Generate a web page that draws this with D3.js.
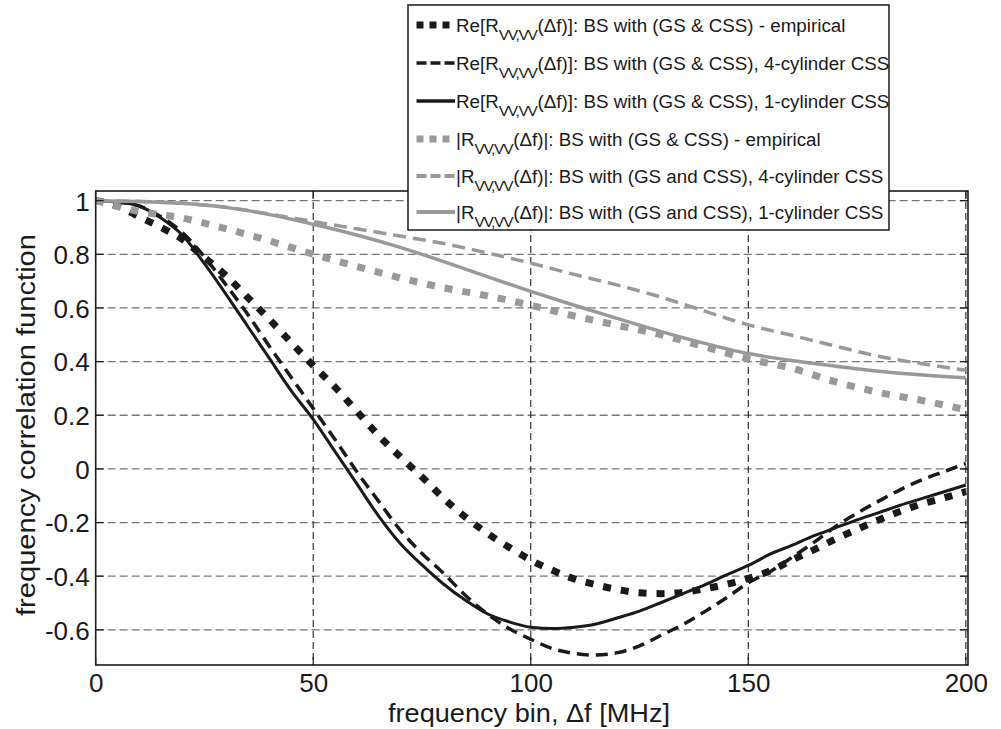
<!DOCTYPE html>
<html>
<head>
<meta charset="utf-8">
<script src="https://cdn.jsdelivr.net/npm/d3@7"></script>
<style>
body { margin: 0; background: #fff; }
text { font-family: "Liberation Sans", Arial, sans-serif; fill: #1a1a1a; }
</style>
</head>
<body>
<svg id="chart" width="1001" height="729"></svg>
<script>
// frequency bins [MHz]
const freqFine = [0,5,10,15,20,25,30,35,40,45,50,55,60,65,70,75,80,85,90,95,100,105,110,115,120,125,130,135,140,145,150,155,160,165,170,175,180,185,190,195,200];
const freqCoarse = [0,10,20,30,40,50,60,70,80,90,100,110,120,130,140,150,160,170,180,190,200];

// Re[R(df)] curves
const reEmpirical = [1.0,0.98,0.94,0.90,0.855,0.788,0.72,0.638,0.556,0.47,0.385,0.305,0.215,0.125,0.045,-0.03,-0.11,-0.18,-0.24,-0.292,-0.34,-0.378,-0.41,-0.432,-0.45,-0.462,-0.465,-0.46,-0.447,-0.43,-0.408,-0.38,-0.34,-0.302,-0.262,-0.225,-0.19,-0.158,-0.13,-0.108,-0.085];
const reFourCyl = [1.0,0.995,0.98,0.94,0.88,0.79,0.685,0.575,0.455,0.34,0.225,0.11,-0.01,-0.12,-0.228,-0.315,-0.39,-0.472,-0.54,-0.595,-0.635,-0.67,-0.688,-0.694,-0.685,-0.66,-0.62,-0.58,-0.532,-0.48,-0.425,-0.383,-0.33,-0.275,-0.215,-0.165,-0.12,-0.077,-0.04,-0.01,0.02];
const reOneCyl = [1.0,0.995,0.98,0.935,0.87,0.765,0.65,0.53,0.41,0.29,0.185,0.065,-0.055,-0.175,-0.278,-0.358,-0.43,-0.49,-0.54,-0.57,-0.59,-0.595,-0.59,-0.578,-0.555,-0.53,-0.498,-0.465,-0.432,-0.395,-0.36,-0.318,-0.285,-0.25,-0.22,-0.19,-0.163,-0.135,-0.11,-0.085,-0.06];

// |R(df)| curves
const absEmpirical = [1.0,0.96,0.935,0.895,0.85,0.80,0.755,0.712,0.675,0.645,0.61,0.57,0.535,0.50,0.455,0.41,0.375,0.325,0.285,0.255,0.22];
const absFourCyl = [1.0,0.997,0.99,0.975,0.95,0.922,0.895,0.868,0.84,0.805,0.767,0.725,0.685,0.64,0.588,0.537,0.498,0.458,0.42,0.392,0.368];
const absOneCyl = [1.0,0.997,0.99,0.975,0.948,0.912,0.872,0.826,0.773,0.717,0.662,0.61,0.56,0.512,0.468,0.43,0.404,0.383,0.364,0.35,0.34];

const xTicks = [0,50,100,150,200];
const yTicks = [-0.6,-0.4,-0.2,0,0.2,0.4,0.6,0.8,1];

const legendLabels = [
  ["Re[R", "VV,VV", "(\u0394f)]: BS with (GS & CSS) - empirical"],
  ["Re[R", "VV,VV", "(\u0394f)]: BS with (GS & CSS), 4-cylinder CSS"],
  ["Re[R", "VV,VV", "(\u0394f)]: BS with (GS & CSS), 1-cylinder CSS"],
  ["|R", "VV,VV", "(\u0394f)|: BS with (GS & CSS) - empirical"],
  ["|R", "VV,VV", "(\u0394f)|: BS with (GS and CSS), 4-cylinder CSS"],
  ["|R", "VV,VV", "(\u0394f)|: BS with (GS and CSS), 1-cylinder CSS"]
];

const black = "#1a1a1a", grey = "#999999";
const series = [
  {xs: freqFine, ys: reEmpirical, color: black, width: 7, dash: "8,10", legDash: "7,6"},
  {xs: freqFine, ys: reFourCyl, color: black, width: 3.5, dash: "12,7", legDash: "10,4"},
  {xs: freqFine, ys: reOneCyl, color: black, width: 3, dash: null, legDash: null},
  {xs: freqCoarse, ys: absEmpirical, color: grey, width: 7, dash: "8,10", legDash: "7,6"},
  {xs: freqCoarse, ys: absFourCyl, color: grey, width: 3.5, dash: "13,7", legDash: "10,4"},
  {xs: freqCoarse, ys: absOneCyl, color: grey, width: 3.5, dash: null, legDash: null}
];

const svg = d3.select("#chart");
const pLeft = 95.7, pRight = 968, pTop = 191, pBottom = 665;

const x = d3.scaleLinear().domain([0, 200.5]).range([pLeft, pRight]);
const y = d3.scaleLinear().domain([-0.731, 1.036]).range([pBottom, pTop]);

svg.append("rect").attr("width", 1001).attr("height", 729).attr("fill", "#fff");

// grid
svg.append("g").selectAll("line")
  .data(yTicks)
  .enter().append("line")
  .attr("x1", pLeft).attr("x2", pRight)
  .attr("y1", d => y(d)).attr("y2", d => y(d))
  .attr("stroke", "#777").attr("stroke-width", 1.3)
  .attr("stroke-dasharray", "8,4");
svg.append("g").selectAll("line")
  .data(xTicks.filter(d => d > 0))
  .enter().append("line")
  .attr("x1", d => x(d)).attr("x2", d => x(d))
  .attr("y1", pTop).attr("y2", pBottom)
  .attr("stroke", "#222").attr("stroke-width", 1.1)
  .attr("stroke-dasharray", "7,4");

// curves
svg.append("defs").append("clipPath").attr("id", "plotClip")
  .append("rect").attr("x", pLeft).attr("y", pTop)
  .attr("width", pRight - pLeft).attr("height", pBottom - pTop);

const line = d3.line()
  .x(d => x(d[0]))
  .y(d => y(d[1]))
  .curve(d3.curveMonotoneX);

const curves = svg.append("g").attr("clip-path", "url(#plotClip)");
series.forEach(s => {
  curves.append("path")
    .datum(s.xs.map((f, i) => [f, s.ys[i]]))
    .attr("d", line)
    .attr("fill", "none")
    .attr("stroke", s.color)
    .attr("stroke-width", s.width)
    .attr("stroke-dasharray", s.dash)
    .attr("stroke-linecap", "butt");
});

// ticks (inside)
const tk = svg.append("g").attr("stroke", black).attr("stroke-width", 1.2);
yTicks.forEach(v => {
  tk.append("line").attr("x1", pLeft).attr("x2", pLeft + 8).attr("y1", y(v)).attr("y2", y(v));
  tk.append("line").attr("x1", pRight - 8).attr("x2", pRight).attr("y1", y(v)).attr("y2", y(v));
});
xTicks.forEach(v => {
  tk.append("line").attr("x1", x(v)).attr("x2", x(v)).attr("y1", pBottom).attr("y2", pBottom - 8);
  tk.append("line").attr("x1", x(v)).attr("x2", x(v)).attr("y1", pTop).attr("y2", pTop + 8);
});

// box
svg.append("rect")
  .attr("x", pLeft).attr("y", pTop)
  .attr("width", pRight - pLeft).attr("height", pBottom - pTop)
  .attr("fill", "none").attr("stroke", black).attr("stroke-width", 1.6);

// axes labels
const yAxis = d3.axisLeft(y).tickValues(yTicks).tickSize(0).tickPadding(6)
  .tickFormat(d => String(+d.toFixed(1)));
const gy = svg.append("g").attr("transform", `translate(${pLeft},0)`).call(yAxis);
gy.select(".domain").remove();
gy.selectAll("text").attr("font-size", 26).attr("dy", "0.36em")
  .style("font-family", "'Liberation Sans', Arial, sans-serif").attr("fill", black);

const xAxis = d3.axisBottom(x).tickValues(xTicks).tickSize(0).tickPadding(9);
const gx = svg.append("g").attr("transform", `translate(0,${pBottom})`).call(xAxis);
gx.select(".domain").remove();
gx.selectAll("text").attr("font-size", 26)
  .style("font-family", "'Liberation Sans', Arial, sans-serif").attr("fill", black);

svg.append("text")
  .attr("x", 529).attr("y", 722)
  .attr("text-anchor", "middle").attr("font-size", 26)
  .attr("textLength", 282).attr("lengthAdjust", "spacingAndGlyphs")
  .text("frequency bin, \u0394f [MHz]");

svg.append("text")
  .attr("transform", "translate(35,425) rotate(-90)")
  .attr("text-anchor", "middle").attr("font-size", 26)
  .attr("textLength", 382).attr("lengthAdjust", "spacingAndGlyphs")
  .text("frequency correlation function");

// legend
const leg = svg.append("g");
leg.append("rect")
  .attr("x", 408).attr("y", 5).attr("width", 481).attr("height", 225)
  .attr("fill", "#fff").attr("stroke", black).attr("stroke-width", 1.5);

const rowY = [25, 63, 101, 139, 176, 212];
series.forEach((s, i) => {
  const cy = rowY[i];
  leg.append("line")
    .attr("x1", 416.5).attr("x2", 455).attr("y1", cy).attr("y2", cy)
    .attr("stroke", s.color)
    .attr("stroke-width", s.width === 7 ? 7 : (s.color === grey ? 4 : 3.5))
    .attr("stroke-dasharray", s.legDash);
  const t = leg.append("text").attr("x", 456).attr("y", cy + 7).attr("font-size", 18.8);
  const lab = legendLabels[i];
  t.append("tspan").text(lab[0]);
  t.append("tspan").attr("dy", 8).attr("font-size", 15.5).attr("letter-spacing", -1.3).text(lab[1]);
  t.append("tspan").attr("dy", -8).attr("dx", 1).text(lab[2]);
});
</script>
</body>
</html>
